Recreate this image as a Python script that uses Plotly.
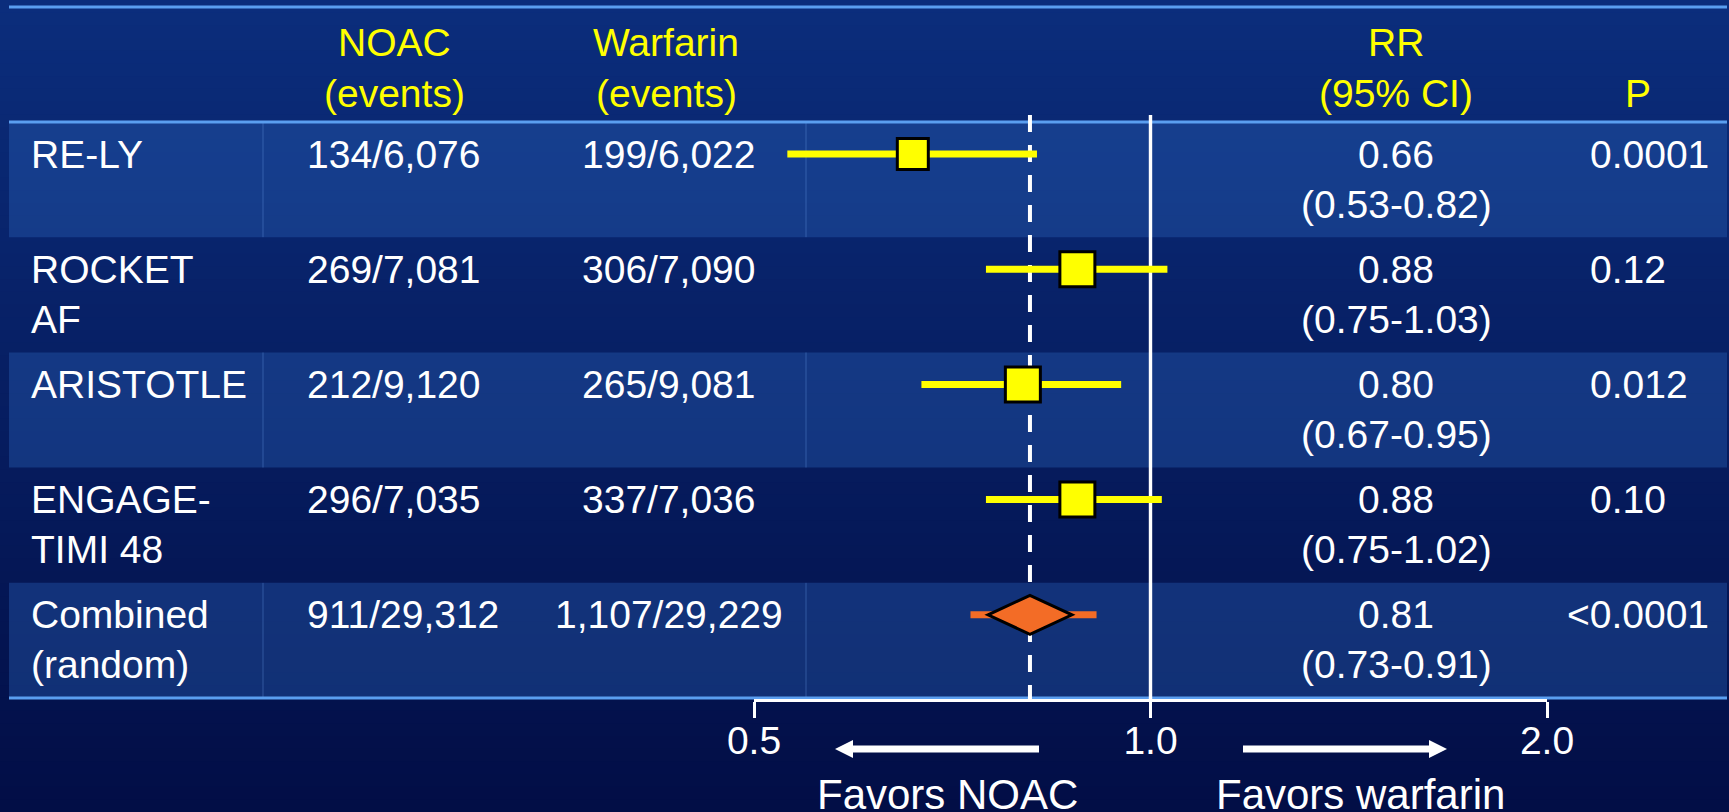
import math
import plotly.graph_objects as go

# ---------------- data ----------------
studies = ["RE-LY", "ROCKET\nAF", "ARISTOTLE", "ENGAGE-\nTIMI 48", "Combined\n(random)"]
noac_events = ["134/6,076", "269/7,081", "212/9,120", "296/7,035", "911/29,312"]
warfarin_events = ["199/6,022", "306/7,090", "265/9,081", "337/7,036", "1,107/29,229"]
rr = [0.66, 0.88, 0.80, 0.88, 0.81]
ci_low = [0.53, 0.75, 0.67, 0.75, 0.73]
ci_high = [0.82, 1.03, 0.95, 1.02, 0.91]
p_values = ["0.0001", "0.12", "0.012", "0.10", "<0.0001"]
study_weights = [31, 35, 35, 35]          # square marker sizes (individual trials)
header_labels = ["NOAC\n(events)", "Warfarin\n(events)", "RR\n(95% CI)", "\nP"]
tick_values = [0.5, 1.0, 2.0]
tick_labels = ["0.5", "1.0", "2.0"]
favors_labels = ["Favors NOAC", "Favors warfarin"]

# ---------------- geometry / style ----------------
W, H = 1729, 812
PLOT_BOTTOM = 699            # pixel row of the x axis
FONT = "Liberation Sans, Arial, Helvetica, sans-serif"
FS = 39
YELLOW = "#ffff00"
ORANGE = "#f36c26"
LINE_BLUE = "#5a9ef0"
TABLE_L, TABLE_R = 9, 1727
HEADER_TOP, HEADER_BOT = 7, 122
ROW_H = (698 - 122) / 5
LINE_GAP = 50


def xp(px):
    return px / W


def yp(py):
    return (PLOT_BOTTOM - py) / PLOT_BOTTOM


row_tops = [HEADER_BOT + i * ROW_H for i in range(len(studies))]
row_centers = [t + 32 for t in row_tops]

fig = go.Figure()
shapes = []
annotations = []

# background vertical gradient
top_c = (11, 45, 124)
bot_c = (2, 14, 70)
N = 64
for i in range(N):
    f = i / (N - 1)
    c = tuple(round(top_c[k] + (bot_c[k] - top_c[k]) * f) for k in range(3))
    y0 = i * H / N
    y1 = (i + 1) * H / N + 1
    shapes.append(dict(type="rect", xref="paper", yref="paper", layer="below",
                       x0=0, x1=1, y0=yp(y0), y1=yp(y1),
                       fillcolor="rgb(%d,%d,%d)" % c, line=dict(width=0)))

# light (alternating) rows
for i, t in enumerate(row_tops):
    if i % 2 == 0:
        shapes.append(dict(type="rect", xref="paper", yref="paper", layer="below",
                           x0=xp(TABLE_L), x1=xp(TABLE_R), y0=yp(t), y1=yp(t + ROW_H),
                           fillcolor="rgba(44,100,186,0.37)", line=dict(width=0)))
        for cx in (263, 806):
            shapes.append(dict(type="line", xref="paper", yref="paper", layer="below",
                               x0=xp(cx), x1=xp(cx), y0=yp(t), y1=yp(t + ROW_H),
                               line=dict(color="rgba(110,160,235,0.35)", width=1)))

# table rules
for yy in (HEADER_TOP, HEADER_BOT, 698):
    shapes.append(dict(type="line", xref="paper", yref="paper", layer="below",
                       x0=xp(TABLE_L), x1=xp(TABLE_R), y0=yp(yy), y1=yp(yy),
                       line=dict(color=LINE_BLUE, width=3)))

# reference lines: no effect (1.0) and pooled estimate (dashed)
shapes.append(dict(type="line", xref="x", yref="y", layer="below",
                   x0=1.0, x1=1.0, y0=115, y1=PLOT_BOTTOM,
                   line=dict(color="white", width=3.4)))
shapes.append(dict(type="line", xref="x", yref="y", layer="below",
                   x0=rr[-1], x1=rr[-1], y0=115, y1=PLOT_BOTTOM,
                   line=dict(color="white", width=4, dash="17px,13px")))

# CI lines for trials
xs, ys = [], []
for i in range(4):
    xs += [ci_low[i], ci_high[i], None]
    ys += [row_centers[i], row_centers[i], None]
fig.add_trace(go.Scatter(x=xs, y=ys, mode="lines", line=dict(color=YELLOW, width=7),
                         hoverinfo="skip", showlegend=False))
# pooled CI line
fig.add_trace(go.Scatter(x=[ci_low[4], ci_high[4]], y=[row_centers[4]] * 2, mode="lines",
                         line=dict(color=ORANGE, width=7), hoverinfo="skip", showlegend=False))
# squares
fig.add_trace(go.Scatter(x=rr[:4], y=row_centers[:4], mode="markers",
                         marker=dict(symbol="square", size=study_weights, color=YELLOW, opacity=1,
                                     line=dict(color="black", width=3)),
                         hoverinfo="skip", showlegend=False))
# pooled diamond (pixel-sized path anchored at pooled RR)
shapes.append(dict(type="path", xref="x", yref="y", layer="above",
                   xsizemode="pixel", ysizemode="pixel",
                   xanchor=rr[4], yanchor=row_centers[4],
                   path="M -42,0 L 0,19.5 L 42,0 L 0,-19.5 Z",
                   fillcolor=ORANGE, line=dict(color="black", width=3)))

# arrows under the axis
ARROW_Y = 749


def arrow(tail, tip):
    d = 1 if tip > tail else -1
    base = tip - d * 18
    shapes.append(dict(type="line", xref="paper", yref="paper",
                       x0=xp(tail), x1=xp(base + d * 2), y0=yp(ARROW_Y), y1=yp(ARROW_Y),
                       line=dict(color="white", width=7)))
    shapes.append(dict(type="path", xref="paper", yref="paper",
                       path="M %f,%f L %f,%f L %f,%f Z" % (xp(tip), yp(ARROW_Y), xp(base), yp(ARROW_Y - 9),
                                                          xp(base), yp(ARROW_Y + 9)),
                       fillcolor="white", line=dict(width=0)))


arrow(1039, 835)
arrow(1243, 1447)


def text(x, y, s, color="white", anchor="center", size=FS):
    annotations.append(dict(xref="paper", yref="paper", x=xp(x), y=yp(y), text=s,
                            showarrow=False, xanchor=anchor, yanchor="middle",
                            font=dict(family=FONT, size=size, color=color)))


def multiline(x, y, s, color="white", anchor="center"):
    for k, line in enumerate(s.split("\n")):
        if line:
            text(x, y + k * LINE_GAP, line, color, anchor)


# header
HEAD_Y = 43
for x, lab in zip((394, 666, 1396, 1638), header_labels):
    multiline(x, HEAD_Y, lab, color=YELLOW)

# rows
LT_W = 0.584 * FS   # width of "<" so that the digits stay aligned
for i in range(len(studies)):
    yc = row_centers[i]
    multiline(29, yc, studies[i], anchor="left")
    text(305, yc, noac_events[i], anchor="left")
    text(669, yc, warfarin_events[i])
    multiline(1396, yc, "%.2f\n(%.2f-%.2f)" % (rr[i], ci_low[i], ci_high[i]))
    pv = p_values[i]
    text(1588 - (LT_W if pv.startswith("<") else 0), yc, pv, anchor="left")

# favors labels
text(947, 794, favors_labels[0], size=42)
text(1360, 794, favors_labels[1], size=42)

fig.update_layout(
    width=W, height=H,
    margin=dict(l=0, r=0, t=0, b=H - PLOT_BOTTOM, pad=0, autoexpand=False),
    paper_bgcolor="rgb(5,28,95)",
    plot_bgcolor="rgba(0,0,0,0)",
    shapes=shapes, annotations=annotations,
    showlegend=False,
    xaxis=dict(type="log", domain=[754 / W, 1547 / W], automargin=False,
               range=[math.log10(tick_values[0]), math.log10(tick_values[-1])],
               tickvals=tick_values, ticktext=tick_labels,
               showline=True, linecolor="white", linewidth=3,
               ticks="outside", ticklen=16, tickwidth=3, tickcolor="white",
               ticklabelstandoff=-11,
               tickfont=dict(family=FONT, size=FS, color="white"),
               showgrid=False, zeroline=False, fixedrange=True),
    yaxis=dict(range=[PLOT_BOTTOM, 0], visible=False, fixedrange=True, automargin=False),
)

fig.write_html("out.html", config={"displayModeBar": False},
               post_script="document.body.style.margin='0';document.body.style.overflow='hidden';")
